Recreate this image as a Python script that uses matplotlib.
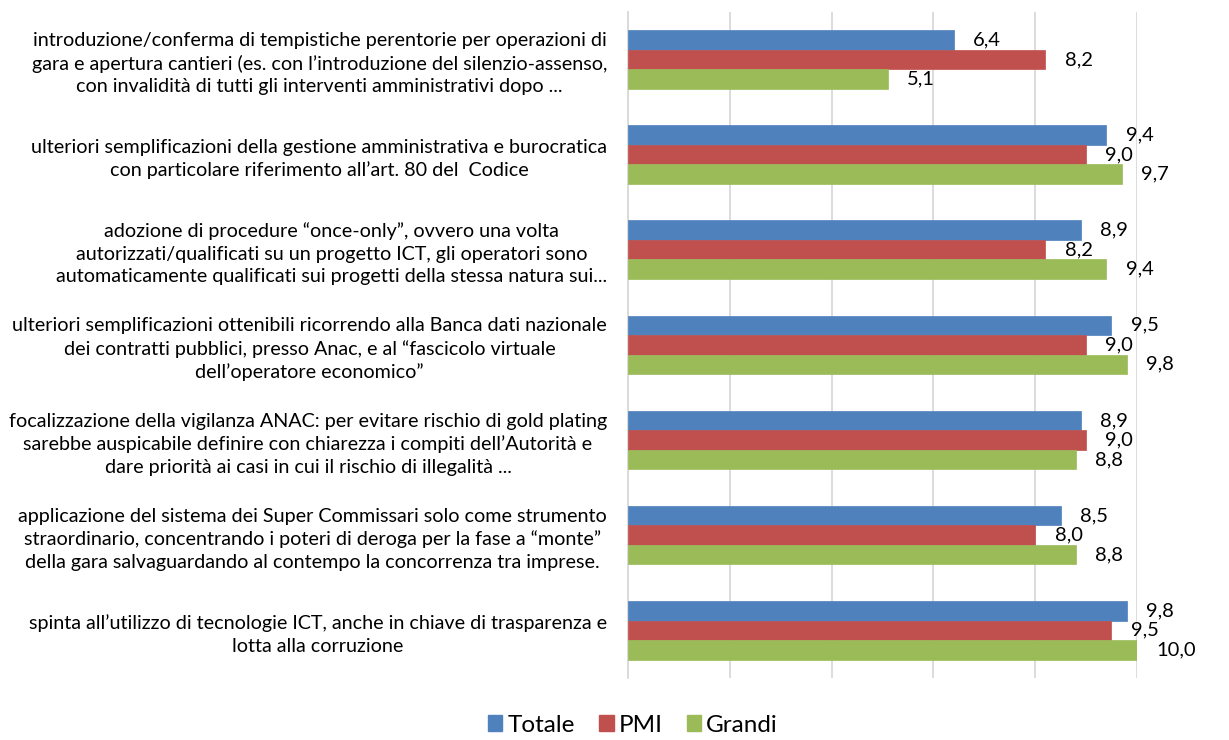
import matplotlib

matplotlib.use("Agg")
import matplotlib.pyplot as plt
import numpy as np
from matplotlib.patches import Patch

plt.rcParams["font.family"] = ["Lato", "DejaVu Sans"]

CATEGORIES = [
    "introduzione/conferma di tempistiche perentorie per operazioni di\n"
    "gara e apertura cantieri (es. con l\u2019introduzione del silenzio-assenso,\n"
    "con invalidità di tutti gli interventi amministrativi dopo ...",
    "ulteriori semplificazioni della gestione amministrativa e burocratica\n"
    "con particolare riferimento all\u2019art. 80 del  Codice",
    "adozione di procedure \u201conce-only\u201d, ovvero una volta\n"
    "autorizzati/qualificati su un progetto ICT, gli operatori sono\n"
    "automaticamente qualificati sui progetti della stessa natura sui...",
    "ulteriori semplificazioni ottenibili ricorrendo alla Banca dati nazionale\n"
    "dei contratti pubblici, presso Anac, e al \u201cfascicolo virtuale\n"
    "dell\u2019operatore economico\u201d",
    "focalizzazione della vigilanza ANAC: per evitare rischio di gold plating\n"
    "sarebbe auspicabile definire con chiarezza i compiti dell\u2019Autorità e\n"
    "dare priorità ai casi in cui il rischio di illegalità ...",
    "applicazione del sistema dei Super Commissari solo come strumento\n"
    "straordinario, concentrando i poteri di deroga per la fase a \u201cmonte\u201d\n"
    "della gara salvaguardando al contempo la concorrenza tra imprese.",
    "spinta all\u2019utilizzo di tecnologie ICT, anche in chiave di trasparenza e\n"
    "lotta alla corruzione",
]

SERIES = ["Totale", "PMI", "Grandi"]
TOTALE = [6.4, 9.4, 8.9, 9.5, 8.9, 8.5, 9.8]
PMI = [8.2, 9.0, 8.2, 9.0, 9.0, 8.0, 9.5]
GRANDI = [5.1, 9.7, 9.4, 9.8, 8.8, 8.8, 10.0]

COLORS = ["#4F81BD", "#C0504D", "#9BBB59"]


def main() -> None:
    fig = plt.figure(figsize=(12.29, 7.40), dpi=100)
    ax = fig.add_axes([0.511, 0.084, 0.414, 0.900])

    y = np.arange(len(CATEGORIES))
    h = 0.205
    for i, (vals, color) in enumerate(zip([TOTALE, PMI, GRANDI], COLORS)):
        pos = y + (i - 1) * h
        ax.barh(pos, vals, height=h, color=color, edgecolor=color, linewidth=0.5, zorder=3)
        for p, v in zip(pos, vals):
            ax.annotate(f"{v:.1f}".replace(".", ","), xy=(v, p), xytext=(14, 0),
                        textcoords="offset points", ha="left", va="center",
                        fontsize=14.5, color="black")

    ax.set_xlim(0, 10)
    ax.set_ylim(len(CATEGORIES) - 0.5, -0.5)
    ax.set_xticks(np.arange(0, 11, 2))
    ax.set_xticklabels([])
    ax.grid(axis="x", color="#D9D9D9", linewidth=1.3, zorder=0)
    ax.tick_params(axis="x", length=0)
    ax.tick_params(axis="y", length=0, pad=15)
    ax.set_yticks(y)
    ax.set_yticklabels(CATEGORIES, fontsize=14.2, ha="right", multialignment="center",
                       linespacing=1.38)
    for side in ("top", "right", "bottom"):
        ax.spines[side].set_visible(False)
    ax.spines["left"].set_color("#D9D9D9")
    ax.spines["left"].set_linewidth(1.3)

    handles = [Patch(facecolor=c, edgecolor=c) for c in COLORS]
    fig.legend(handles, SERIES, loc="center", bbox_to_anchor=(0.515, 0.02),
               ncol=3, frameon=False, fontsize=17.5, handlelength=0.6, handleheight=0.6,
               handletextpad=0.2, columnspacing=1.0, borderpad=0.2)

    fig.savefig("out.png", dpi=100)


if __name__ == "__main__":
    main()
